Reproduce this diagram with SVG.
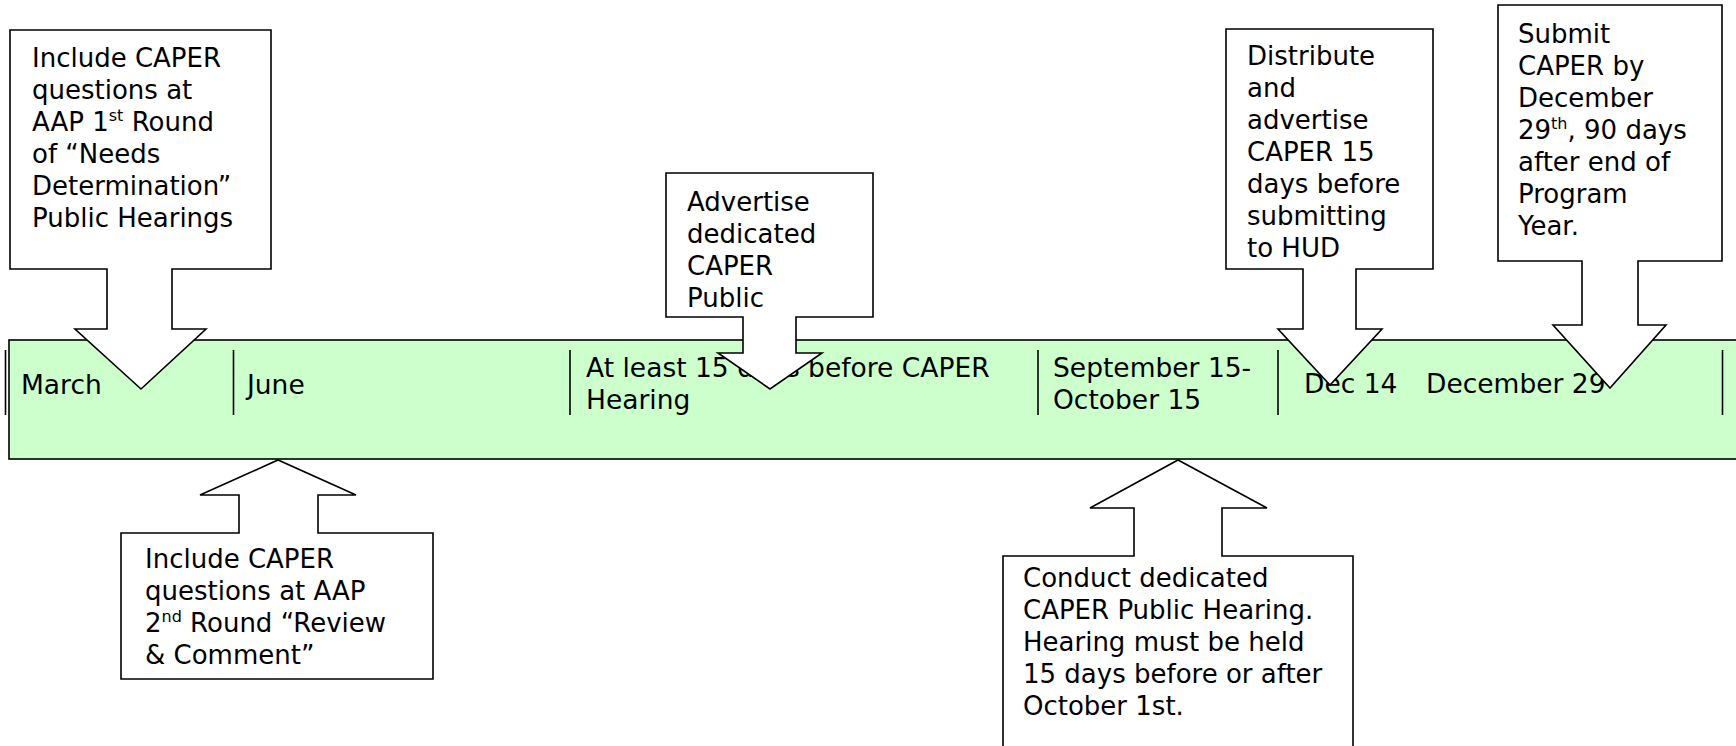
<svg xmlns="http://www.w3.org/2000/svg" width="1736" height="746" viewBox="0 0 1736 746">
<style>
.bg{fill:#ffffff}
.band{fill:#ccffcc;stroke:#000;stroke-width:1.6}
.sep{stroke:#000;stroke-width:1.6}
.callout{fill:#ffffff;stroke:#000;stroke-width:1.6;stroke-linejoin:miter}
text{font-family:"DejaVu Sans","Verdana",sans-serif;font-size:26px;fill:#000}
.bt{font-size:26.5px}
.sup{font-size:16px}
</style>
<rect class="bg" x="0" y="0" width="1736" height="746"/>
<g id="timeline">
  <rect class="band" x="9" y="340" width="1740" height="119"/>
  <line class="sep" x1="5.5" y1="350" x2="5.5" y2="415"/>
  <line class="sep" x1="233.5" y1="350" x2="233.5" y2="415"/>
  <line class="sep" x1="570" y1="350" x2="570" y2="415"/>
  <line class="sep" x1="1038" y1="350" x2="1038" y2="415"/>
  <line class="sep" x1="1278" y1="350" x2="1278" y2="415"/>
  <line class="sep" x1="1722.5" y1="350" x2="1722.5" y2="415"/>
  <text class="bt" x="21" y="394">March</text>
  <text class="bt" x="247" y="394">June</text>
  <text class="bt" x="586" y="377">At least 15 days before CAPER</text>
  <text class="bt" x="586" y="409">Hearing</text>
  <text class="bt" x="1053" y="377">September 15-</text>
  <text class="bt" x="1053" y="409">October 15</text>
  <text class="bt" x="1304" y="393">Dec 14</text>
  <text class="bt" x="1426" y="393">December 29</text>
</g>
<g id="callout-march">
  <path class="callout" d="M10,30 H271 V269 H172 V329 H206 L141,389 L75,329 H107 V269 H10 Z"/>
  <text x="32" y="67">Include CAPER</text>
  <text x="32" y="99">questions at</text>
  <text x="32" y="131">AAP 1<tspan class="sup" dy="-10">st</tspan><tspan dy="10"> Round</tspan></text>
  <text x="32" y="163">of “Needs</text>
  <text x="32" y="195">Determination”</text>
  <text x="32" y="227">Public Hearings</text>
</g>
<g id="callout-june">
  <path class="callout" d="M121,533 H239 V495 H200 L278,460 L356,495 H318 V533 H433 V679 H121 Z"/>
  <text x="145" y="568">Include CAPER</text>
  <text x="145" y="600">questions at AAP</text>
  <text x="145" y="632">2<tspan class="sup" dy="-10">nd</tspan><tspan dy="10"> Round “Review</tspan></text>
  <text x="145" y="664">&amp; Comment”</text>
</g>
<g id="callout-advertise">
  <path class="callout" d="M666,173 H873 V317 H796 V353 H822 L770,389 L718,353 H743 V317 H666 Z"/>
  <text x="687" y="210.5">Advertise</text>
  <text x="687" y="242.5">dedicated</text>
  <text x="687" y="274.5">CAPER</text>
  <text x="687" y="306.5">Public</text>
</g>
<g id="callout-hearing">
  <path class="callout" d="M1003,556 H1134 V508 H1090 L1178,460 L1267,508 H1222 V556 H1353 V760 H1003 Z"/>
  <text x="1023" y="587">Conduct dedicated</text>
  <text x="1023" y="619">CAPER Public Hearing.</text>
  <text x="1023" y="651">Hearing must be held</text>
  <text x="1023" y="683">15 days before or after</text>
  <text x="1023" y="715">October 1st.</text>
</g>
<g id="callout-distribute">
  <path class="callout" d="M1226,29 H1433 V269 H1356 V329 H1382 L1330,385 L1278,329 H1303 V269 H1226 Z"/>
  <text x="1247" y="65">Distribute</text>
  <text x="1247" y="97">and</text>
  <text x="1247" y="129">advertise</text>
  <text x="1247" y="161">CAPER 15</text>
  <text x="1247" y="193">days before</text>
  <text x="1247" y="225">submitting</text>
  <text x="1247" y="257">to HUD</text>
</g>
<g id="callout-submit">
  <path class="callout" d="M1498,5 H1722 V261 H1638 V325 H1666 L1610,388 L1553,325 H1582 V261 H1498 Z"/>
  <text x="1518" y="43">Submit</text>
  <text x="1518" y="75">CAPER by</text>
  <text x="1518" y="107">December</text>
  <text x="1518" y="139">29<tspan class="sup" dy="-10">th</tspan><tspan dy="10">, 90 days</tspan></text>
  <text x="1518" y="171">after end of</text>
  <text x="1518" y="203">Program</text>
  <text x="1518" y="235">Year.</text>
</g>
</svg>
